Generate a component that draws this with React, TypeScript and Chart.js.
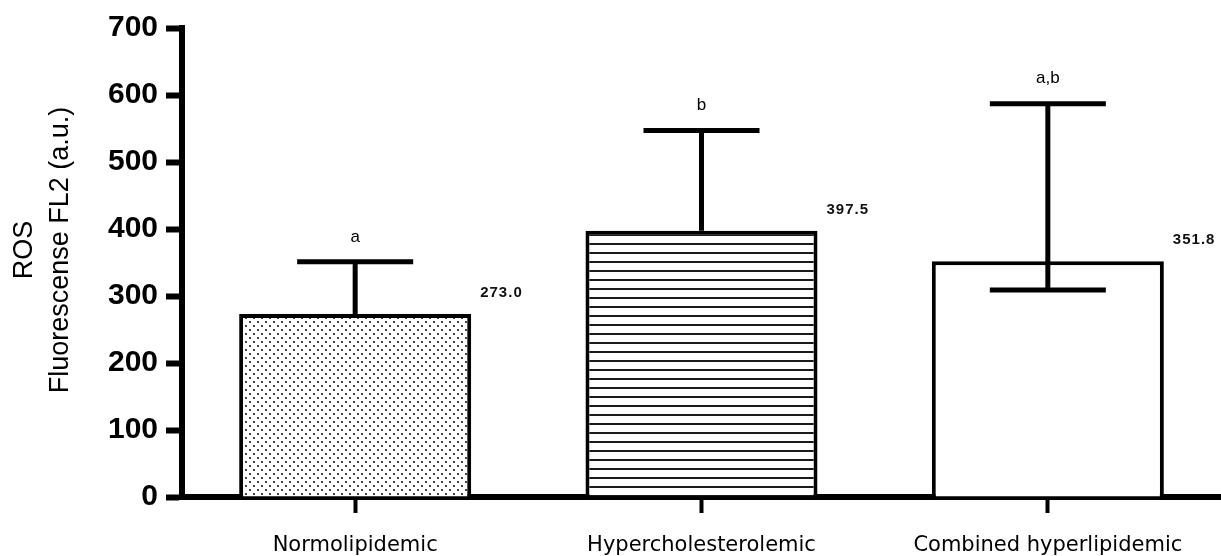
import { useEffect, useRef } from "react";
import { Chart, registerables } from "chart.js";

Chart.register(...registerables);

// Groups and their mean ROS fluorescence
const categories = ["Normolipidemic", "Hypercholesterolemic", "Combined hyperlipidemic"];
const means = [273.0, 397.5, 351.8];
// Error bar ends (upper whisker for every group, lower whisker where it is visible)
const errorHigh = [351, 547, 587];
const errorLow: (number | null)[] = [null, null, 309];
// Statistical group letters shown above the whiskers
const groupLetters = ["a", "b", "a,b"];
// Value axis
const yMin = 0;
const yMax = 700;
const yStep = 100;
const yTitleLines = ["ROS", "Fluorescense FL2 (a.u.)"];

function makeDotPattern(ctx: CanvasRenderingContext2D) {
  const c = document.createElement("canvas");
  c.width = 8;
  c.height = 8;
  const g = c.getContext("2d")!;
  g.fillStyle = "#ffffff";
  g.fillRect(0, 0, 8, 8);
  g.fillStyle = "#444444";
  g.fillRect(1, 1, 2, 2);
  g.fillRect(5, 5, 2, 2);
  return ctx.createPattern(c, "repeat")!;
}

function makeStripePattern(ctx: CanvasRenderingContext2D) {
  const c = document.createElement("canvas");
  c.width = 8;
  c.height = 9;
  const g = c.getContext("2d")!;
  g.fillStyle = "#ffffff";
  g.fillRect(0, 0, 8, 9);
  g.fillStyle = "#1a1a1a";
  g.fillRect(0, 0, 8, 2);
  return ctx.createPattern(c, "repeat")!;
}

const errorBarsPlugin = {
  id: "errorBars",
  afterDatasetsDraw(chart: any) {
    const { ctx } = chart;
    const yScale = chart.scales.y;
    const meta = chart.getDatasetMeta(0);
    ctx.save();
    ctx.strokeStyle = "#000";
    ctx.lineWidth = 5;
    ctx.lineCap = "butt";
    meta.data.forEach((bar: any, i: number) => {
      const x = bar.x;
      const half = bar.width / 4;
      const yHi = yScale.getPixelForValue(errorHigh[i]);
      const lo = errorLow[i];
      const yLo = lo == null ? bar.y : yScale.getPixelForValue(lo);
      ctx.beginPath();
      ctx.moveTo(x, yHi);
      ctx.lineTo(x, yLo);
      ctx.moveTo(x - half, yHi);
      ctx.lineTo(x + half, yHi);
      if (lo != null) {
        ctx.moveTo(x - half, yLo);
        ctx.lineTo(x + half, yLo);
      }
      ctx.stroke();

      // group letter above the whisker cap
      ctx.fillStyle = "#000";
      ctx.font = "17px 'Liberation Sans', Arial, sans-serif";
      ctx.textAlign = "center";
      ctx.textBaseline = "middle";
      ctx.fillText(groupLetters[i], x, yHi - 25);

      // mean value beside the bar top
      ctx.font = "bold 15px 'Liberation Sans', Arial, sans-serif";
      (ctx as any).letterSpacing = "1px";
      ctx.fillStyle = "#111";
      ctx.textAlign = "left";
      ctx.fillText(means[i].toFixed(1), bar.x + bar.width / 2 + 9, bar.y - 21);
      (ctx as any).letterSpacing = "0px";
    });
    ctx.restore();
  },
};

const yTitlePlugin = {
  id: "yTitle",
  afterDraw(chart: any) {
    const { ctx } = chart;
    const xs = [25, 61];
    ctx.save();
    ctx.fillStyle = "#000";
    ctx.font = "27px 'Liberation Sans', Arial, sans-serif";
    ctx.textAlign = "center";
    ctx.textBaseline = "middle";
    yTitleLines.forEach((line, i) => {
      ctx.save();
      ctx.translate(xs[i], 250);
      ctx.rotate(-Math.PI / 2);
      ctx.fillText(line, 0, 0);
      ctx.restore();
    });
    ctx.restore();
  },
};

export default function App() {
  const canvasRef = useRef<HTMLCanvasElement | null>(null);

  useEffect(() => {
    const canvas = canvasRef.current;
    if (!canvas) return;
    const ctx = canvas.getContext("2d")!;
    const chart = new Chart(canvas, {
      type: "bar",
      data: {
        labels: categories,
        datasets: [
          {
            data: means,
            backgroundColor: [makeDotPattern(ctx), makeStripePattern(ctx), "#ffffff"],
            borderColor: "#000",
            borderWidth: 4,
            borderSkipped: "bottom",
            barPercentage: 0.67,
            categoryPercentage: 1,
          },
        ],
      },
      options: {
        responsive: false,
        animation: false,
        layout: { padding: { top: 28, left: 0, right: 0, bottom: 0 } },
        plugins: {
          legend: { display: false },
          tooltip: { enabled: false },
        },
        scales: {
          x: {
            offset: true,
            grid: {
              offset: false,
              drawOnChartArea: false,
              drawTicks: true,
              tickLength: 16,
              tickWidth: 4,
              color: "#000",
            },
            border: { display: true, width: 6, color: "#000" },
            ticks: {
              font: { family: "'DejaVu Sans', sans-serif", size: 21 },
              color: "#000",
              padding: 20,
              maxRotation: 0,
              autoSkip: false,
            },
            afterFit: (s: any) => {
              s.height = 59;
            },
          },
          y: {
            min: yMin,
            max: yMax,
            ticks: {
              stepSize: yStep,
              font: { family: "'Liberation Sans', Arial, sans-serif", size: 30, weight: "bold" },
              color: "#000",
              padding: 8,
            },
            grid: {
              drawOnChartArea: false,
              tickLength: 16,
              tickWidth: 6,
              color: "#000",
            },
            border: { display: true, width: 6, color: "#000" },
            afterFit: (s: any) => {
              s.width = 182;
            },
          },
        },
      },
      plugins: [errorBarsPlugin, yTitlePlugin],
    } as any);
    return () => chart.destroy();
  }, []);

  return (
    <div style={{ position: "fixed", left: 0, top: 0, width: 1221, height: 556, background: "#fff" }}>
      <canvas ref={canvasRef} width={1221} height={556} style={{ display: "block" }} />
    </div>
  );
}
